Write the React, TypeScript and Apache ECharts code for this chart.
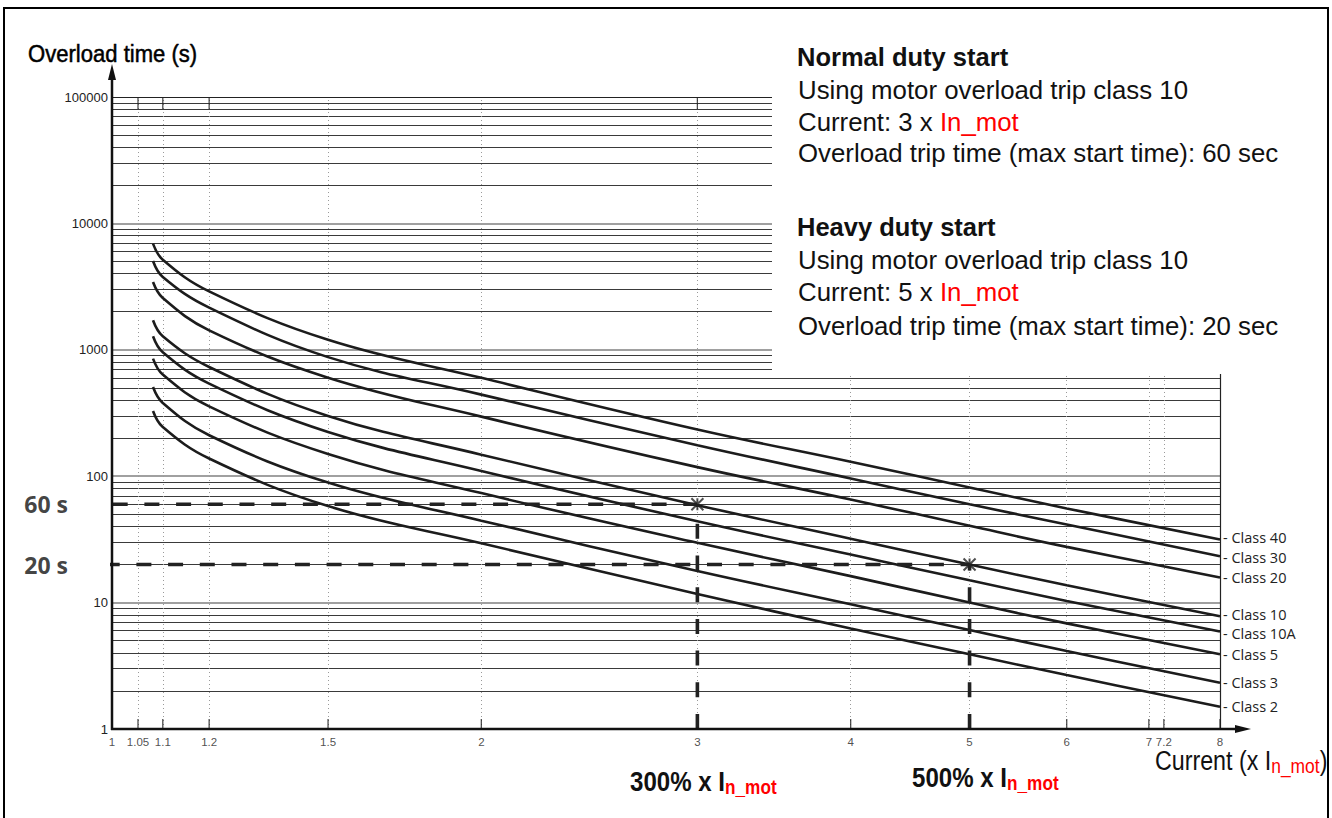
import React, { useEffect, useRef } from 'react';
import * as echarts from 'echarts';

// ---------- data ----------
const CURRENT = [1.08, 1.1, 1.2, 1.5, 2, 3, 4, 5, 6, 8];
const CLASS_NAMES = ['Class 40', 'Class 30', 'Class 20', 'Class 10', 'Class 10A', 'Class 5', 'Class 3', 'Class 2'];
const CLASS_40 = [6915, 5165, 2900, 1200, 600, 234, 130, 81.4, 55.6, 31.6];
const CLASS_30 = [5035, 3764, 2155, 875, 442, 176, 96, 60, 41.5, 23.3];
const CLASS_20 = [3435, 2569, 1426, 602, 296, 118, 65.4, 40.5, 27.6, 15.8];
const CLASS_10 = [1711, 1279, 731, 300, 148, 59, 32, 20, 13.7, 7.8];
const CLASS_10A = [1279, 955, 540, 224, 110, 44, 24, 15, 10.3, 5.9];
const CLASS_5 = [852, 637, 357, 150, 73.5, 29.7, 16.2, 10, 6.85, 3.9];
const CLASS_3 = [508, 380, 211, 89, 44.5, 17.8, 9.7, 6.06, 4.14, 2.32];
const CLASS_2 = [328, 245, 138, 58, 29.5, 11.7, 6.25, 3.9, 2.67, 1.5];
const CLASS_VALUES = [CLASS_40, CLASS_30, CLASS_20, CLASS_10, CLASS_10A, CLASS_5, CLASS_3, CLASS_2];
// small vertical nudges so the tightly packed end labels do not collide
const LABEL_NUDGE = [-1.5, 1.5, 0, -1.5, 1.5, 0, 0, 0];

const X_TICKS = [1, 1.05, 1.1, 1.2, 1.5, 2, 3, 4, 5, 6, 7, 7.2, 8];
const X_TICK_LABELS = ['1', '1.05', '1.1', '1.2', '1.5', '2', '3', '4', '5', '6', '7', '7.2', '8'];
const X_GRID = [1.05, 1.1, 1.2, 1.5, 2, 3, 4, 5, 6, 7, 7.2];
const X_TOP_TICKS = [1.05, 1.1, 1.2, 3];
const Y_DECADES = [1, 10, 100, 1000, 10000];
const Y_MULTIPLES = [1, 2, 3, 4, 5, 6, 7, 8, 9];
const Y_MIN = 1;
const Y_MAX = 100000;
const X_MIN = 1;
const X_MAX = 8;

const NORMAL_CURRENT = 3;
const NORMAL_TIME = 60;
const HEAVY_CURRENT = 5;
const HEAVY_TIME = 20;
const DASH_START = 0.947; // dashed guide lines start left of the axis

const SANS = '"Liberation Sans", Arial, sans-serif';
const MYRIAD = '"Open Sans", "Noto Sans", sans-serif';

export default function App() {
  const ref = useRef<HTMLDivElement>(null);

  useEffect(() => {
    if (!ref.current) return;
    const chart = echarts.init(ref.current, undefined, { renderer: 'svg' });

    const gridLines: any[] = [];
    Y_DECADES.forEach((d) =>
      Y_MULTIPLES.forEach((m) => {
        const major = m === 1 && d > 1;
        gridLines.push({
          yAxis: d * m,
          lineStyle: major
            ? { color: '#808080', width: 1.6, type: 'solid' }
            : { color: '#3a3a3a', width: 1, type: 'solid' },
        });
      })
    );
    gridLines.push({ yAxis: Y_MAX, lineStyle: { color: '#222', width: 1.2, type: 'solid' } });
    X_GRID.forEach((x) =>
      gridLines.push({ xAxis: x, lineStyle: { color: '#9a9a9a', width: 1, type: [1, 3] } })
    );
    gridLines.push({ xAxis: X_MAX, lineStyle: { color: '#222', width: 1.2, type: 'solid' } });

    const classSeries = CLASS_NAMES.map((name, k) => ({
      name,
      type: 'line',
      data: CURRENT.map((x, i) => [x, CLASS_VALUES[k][i]]),
      smooth: 0.4,
      symbol: 'none',
      z: 5,
      lineStyle: { color: '#1c1c1c', width: 2.6 },
      endLabel: {
        show: true,
        formatter: '- {a}',
        color: '#222',
        fontSize: 14.5,
        lineHeight: 14,
        fontFamily: MYRIAD,
        distance: 3,
        offset: [0, LABEL_NUDGE[k]],
      },
    }));

    const dashStyle = { color: '#222', width: 3.6, type: [15, 16.7] };
    const subRich = (size: number, subSize: number, bold: boolean) => ({
      a: {
        fontSize: size,
        fontWeight: bold ? 'bold' : 'normal',
        fontFamily: SANS,
        fill: '#111',
        lineHeight: size + 2,
        verticalAlign: 'top',
      },
      s: {
        fontSize: subSize,
        fontWeight: bold ? 'bold' : 'normal',
        fontFamily: SANS,
        fill: '#ff0000',
        lineHeight: 14,
        verticalAlign: 'bottom',
      },
    });

    const option: any = {
      animation: false,
      grid: { left: 112, top: 97, width: 1108, height: 632, containLabel: false },
      xAxis: {
        type: 'log',
        logBase: 10,
        min: X_MIN,
        max: X_MAX,
        axisLine: { show: false },
        axisTick: { show: false },
        axisLabel: { show: false },
        splitLine: { show: false },
      },
      yAxis: {
        type: 'log',
        logBase: 10,
        min: Y_MIN,
        max: Y_MAX,
        axisLine: { show: false },
        axisTick: { show: false },
        splitLine: { show: false },
        axisLabel: {
          show: true,
          margin: 4,
          fontSize: 13,
          color: '#222',
          fontFamily: SANS,
          formatter: (v: number) => String(Math.round(v)),
        },
      },
      series: [
        {
          name: 'ticks',
          type: 'scatter',
          data: X_TICKS.map((x) => [x, Y_MIN]),
          symbol: 'rect',
          symbolSize: [1.3, 10],
          symbolOffset: [0, -5],
          itemStyle: { color: '#222' },
          silent: true,
          z: 3,
          label: {
            show: true,
            position: 'bottom',
            distance: 7,
            fontSize: 11.5,
            color: '#222',
            fontFamily: SANS,
            formatter: (p: any) => X_TICK_LABELS[p.dataIndex],
          },
          markLine: {
            silent: true,
            symbol: ['none', 'none'],
            label: { show: false },
            emphasis: { disabled: true },
            data: gridLines,
            z: 1,
          },
        },
        {
          name: 'topTicks',
          type: 'scatter',
          data: X_TOP_TICKS.map((x) => [x, Y_MAX]),
          symbol: 'rect',
          symbolSize: [1.3, 12],
          symbolOffset: [0, 6],
          itemStyle: { color: '#222' },
          silent: true,
          z: 3,
        },
        ...classSeries,
        {
          name: 'normalH',
          type: 'line',
          clip: false,
          symbol: 'none',
          z: 6,
          data: [[DASH_START, NORMAL_TIME], [NORMAL_CURRENT, NORMAL_TIME]],
          lineStyle: { ...dashStyle, dashOffset: 2 },
        },
        {
          name: 'normalV',
          type: 'line',
          clip: false,
          symbol: 'none',
          z: 6,
          data: [[NORMAL_CURRENT, Y_MIN], [NORMAL_CURRENT, NORMAL_TIME]],
          lineStyle: dashStyle,
        },
        {
          name: 'heavyH',
          type: 'line',
          clip: false,
          symbol: 'none',
          z: 6,
          data: [[DASH_START, HEAVY_TIME], [HEAVY_CURRENT, HEAVY_TIME]],
          lineStyle: { ...dashStyle, dashOffset: 10 },
        },
        {
          name: 'heavyV',
          type: 'line',
          clip: false,
          symbol: 'none',
          z: 6,
          data: [[HEAVY_CURRENT, Y_MIN], [HEAVY_CURRENT, HEAVY_TIME]],
          lineStyle: dashStyle,
        },
        {
          name: 'markers',
          type: 'scatter',
          clip: false,
          z: 7,
          data: [[NORMAL_CURRENT, NORMAL_TIME], [HEAVY_CURRENT, HEAVY_TIME]],
          symbol: 'path://M0,0L12,12M12,0L0,12M6,0L6,12',
          symbolSize: 12,
          itemStyle: { color: 'rgba(0,0,0,0)', borderColor: '#222', borderWidth: 2 },
        },
        {
          name: 'timeLabels',
          type: 'scatter',
          clip: false,
          z: 7,
          symbolSize: 0,
          data: [
            [DASH_START, NORMAL_TIME],
            [DASH_START, HEAVY_TIME],
          ],
          label: {
            show: true,
            position: 'left',
            distance: 15,
            fontSize: 23,
            fontWeight: 'bold',
            fontFamily: MYRIAD,
            color: '#111',
            formatter: (p: any) => `${p.value[1]} s`,
          },
        },
      ],
      graphic: [
        // white panel behind the annotation text
        {
          type: 'rect',
          z: 100,
          shape: { x: 772, y: 10, width: 553, height: 364 },
          style: { fill: '#fff' },
        },
        // outer frame
        {
          type: 'rect',
          z: 101,
          shape: { x: 4, y: 8, width: 1324, height: 840 },
          style: { fill: 'none', stroke: '#000', lineWidth: 2 },
        },
        // y axis with arrow
        {
          type: 'line',
          z: 102,
          shape: { x1: 112, y1: 730, x2: 112, y2: 74 },
          style: { stroke: '#111', lineWidth: 2.5 },
        },
        {
          type: 'polygon',
          z: 102,
          shape: { points: [[108, 80], [116, 80], [112, 64]] },
          style: { fill: '#111' },
        },
        // x axis with arrow
        {
          type: 'line',
          z: 102,
          shape: { x1: 111, y1: 729, x2: 1240, y2: 729 },
          style: { stroke: '#111', lineWidth: 2.5 },
        },
        {
          type: 'polygon',
          z: 102,
          shape: { points: [[1235, 725], [1235, 733], [1251, 729]] },
          style: { fill: '#111' },
        },
        // axis titles
        {
          type: 'text',
          z: 102,
          x: 28,
          y: 54,
          scaleX: 0.92,
          style: {
            text: 'Overload time (s)',
            font: `24px ${SANS}`,
            fill: '#000',
            verticalAlign: 'middle',
            stroke: '#000',
            lineWidth: 0.5,
          },
        },
        {
          type: 'text',
          z: 102,
          x: 1155,
          y: 746,
          scaleX: 0.83,
          style: {
            text: '{a|Current (x I}{s|n_mot}{a|)}',
            rich: subRich(28, 21, false),
          },
        },
        {
          type: 'text',
          z: 102,
          x: 630,
          y: 767,
          scaleX: 0.86,
          style: {
            text: '{a|300% x I}{s|n_mot}',
            rich: subRich(28, 20, true),
          },
        },
        {
          type: 'text',
          z: 102,
          x: 912,
          y: 763,
          scaleX: 0.86,
          style: {
            text: '{a|500% x I}{s|n_mot}',
            rich: subRich(28, 20, true),
          },
        },
        // annotation text
        ...[
          { t: 'Normal duty start', y: 57, bold: true },
          { t: 'Using motor overload trip class 10', y: 90 },
          { t: '{a|Current: 3 x }{r|In_mot}', y: 122, rich: true },
          { t: 'Overload trip time (max start time): 60 sec', y: 153 },
          { t: 'Heavy duty start', y: 227, bold: true },
          { t: 'Using motor overload trip class 10', y: 260 },
          { t: '{a|Current: 5 x }{r|In_mot}', y: 292, rich: true },
          { t: 'Overload trip time (max start time): 20 sec', y: 326 },
        ].map((l: any) => ({
          type: 'text',
          z: 103,
          x: l.bold ? 797 : 798,
          y: l.y,
          style: l.rich
            ? {
                text: l.t,
                verticalAlign: 'middle',
                rich: {
                  a: { fontSize: 25.8, fontFamily: SANS, fill: '#111' },
                  r: { fontSize: 25.8, fontFamily: SANS, fill: '#ff0000' },
                },
              }
            : {
                text: l.t,
                verticalAlign: 'middle',
                font: l.bold ? `bold 25.5px ${SANS}` : `25.8px ${SANS}`,
                fill: '#111',
              },
        })),
      ],
    };

    chart.setOption(option);
    return () => chart.dispose();
  }, []);

  return (
    <div
      ref={ref}
      style={{ position: 'fixed', left: 0, top: 0, width: 1332, height: 818, background: '#fff' }}
    />
  );
}
